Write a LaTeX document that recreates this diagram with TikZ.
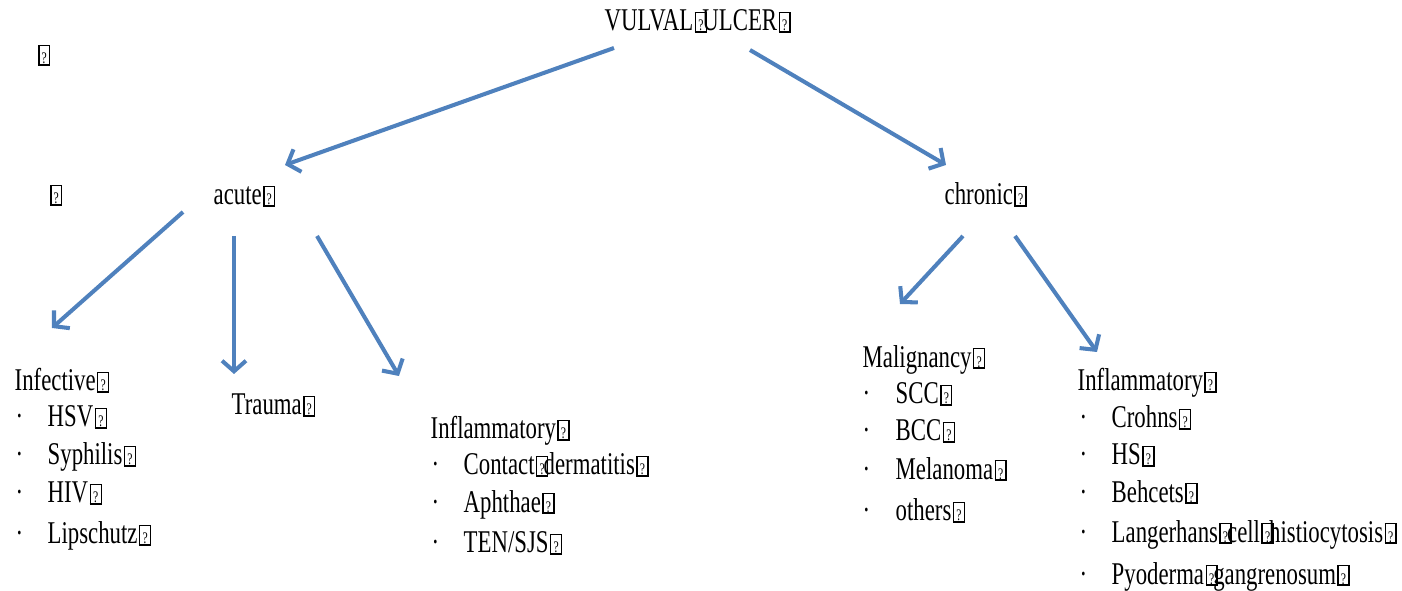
\documentclass[tikz,border=0pt]{standalone}
\usepackage{fontspec}
\setmainfont{Liberation Serif}[FakeStretch=0.72]
\usetikzlibrary{arrows.meta}
\definecolor{arrblue}{HTML}{4F81BD}
% missing-glyph box, as printed in the picture
\newcommand\qbox{\kern0.4pt{\fboxsep=0pt\fboxrule=0.4pt\fbox{\makebox[2.7pt]{\rule{0pt}{5.1pt}\fontsize{4.6}{5}\selectfont ?}}}\kern0.3pt}
\newcommand\qsp{\qbox\kern-1.6pt}

\begin{document}
\begin{tikzpicture}[x=0.01cm,y=-0.01cm,
  lbl/.style={anchor=base west,inner sep=0pt,font=\fontsize{9}{11}\selectfont},
  arr/.style={draw=arrblue,line width=1.15pt,-{Straight Barb[length=3pt,width=6.8pt,line width=1.15pt]}}]
\useasboundingbox (0,0) rectangle (1402,591);

%%%%% HEADINGS %%%%%
\node[lbl] (root) at (604,31) {VULVAL\qsp ULCER\qbox};
\node[lbl] (gap1) at (36,64) {\qbox};
\node[lbl] (gap2) at (48,204) {\qbox};
\node[lbl] (acute) at (213,205) {acute\qbox};
\node[lbl] (chronic) at (944,205) {chronic\qbox};

%%%%% ACUTE %%%%%
\node[lbl] (infective) at (14,391) {Infective\qbox};
\foreach \txt/\yb [count=\i] in {HSV/427, Syphilis/465, HIV/503, Lipschutz/544}{
  \node[lbl] (infdot\i) at (15,\yb) {·};
  \node[lbl] (inf\i) at (47,\yb) {\txt\qbox};
}
\node[lbl] (trauma) at (231,415) {Trauma\qbox};
\node[lbl] (inflA) at (430,439) {Inflammatory\qbox};
\foreach \txt/\yb [count=\i] in {{Contact\qsp dermatitis}/475, Aphthae/512, {TEN/SJS}/553}{
  \node[lbl] (infladot\i) at (431,\yb) {·};
  \node[lbl] (infla\i) at (463,\yb) {\txt\qbox};
}

%%%%% CHRONIC %%%%%
\node[lbl] (malig) at (862,367) {Malignancy\qbox};
\foreach \txt/\yb [count=\i] in {SCC/404, BCC/441, Melanoma/479, others/521}{
  \node[lbl] (maldot\i) at (862,\yb) {·};
  \node[lbl] (mal\i) at (895,\yb) {\txt\qbox};
}
\node[lbl] (inflC) at (1077,391) {Inflammatory\qbox};
\foreach \txt/\yb [count=\i] in {Crohns/428, HS/465, Behcets/502, {Langerhans\qsp cell\qsp histiocytosis}/542, {Pyoderma\qsp gangrenosum}/584}{
  \node[lbl] (inflcdot\i) at (1079,\yb) {·};
  \node[lbl] (inflc\i) at (1111,\yb) {\txt\qbox};
}

%%%%% ARROWS %%%%%
\coordinate (r1) at (614,48);   \coordinate (a0) at (285,165);
\coordinate (r2) at (750,50);   \coordinate (c0) at (946,165);
\coordinate (a1) at (183,212);  \coordinate (inf0) at (52,328);
\coordinate (a2) at (234,236);  \coordinate (tr0) at (234,374);
\coordinate (a3) at (317,236);  \coordinate (ia0) at (399,376);
\coordinate (c1) at (963,236);  \coordinate (mal0) at (900,304);
\coordinate (c2) at (1015,236); \coordinate (ic0) at (1097,352);

\draw[arr] (r1) -- (a0);
\draw[arr] (r2) -- (c0);
\draw[arr] (a1) -- (inf0);
\draw[arr] (a2) -- (tr0);
\draw[arr] (a3) -- (ia0);
\draw[arr] (c1) -- (mal0);
\draw[arr] (c2) -- (ic0);
\end{tikzpicture}
\end{document}
